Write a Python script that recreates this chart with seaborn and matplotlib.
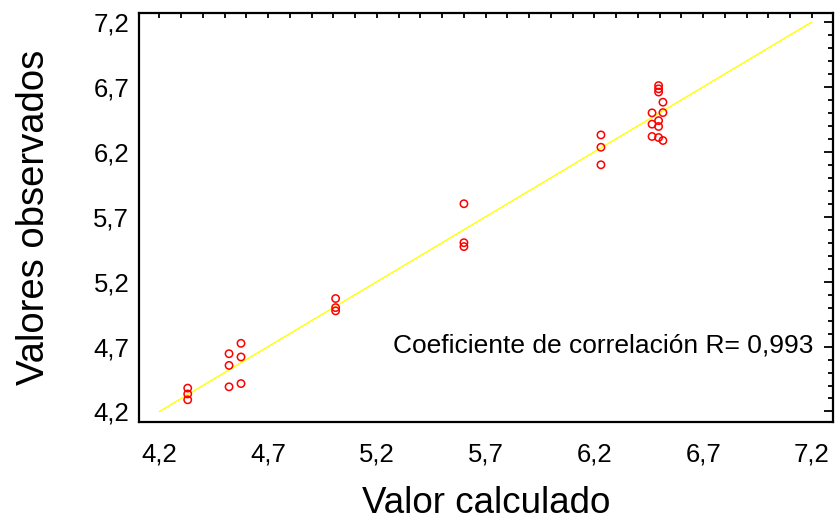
import numpy as np
import pandas as pd
import matplotlib
matplotlib.use("Agg")
import matplotlib.pyplot as plt
import seaborn as sns
from matplotlib.ticker import MultipleLocator, FuncFormatter

# Data
calc = [4.33, 4.33, 4.33,
        4.52, 4.52, 4.52,
        4.575, 4.575, 4.575,
        5.01, 5.01, 5.01,
        5.60, 5.60, 5.60,
        6.23, 6.23, 6.23,
        6.465, 6.465, 6.465,
        6.495, 6.495, 6.495, 6.495, 6.495, 6.495,
        6.515, 6.515, 6.515]
obs = [4.38, 4.335, 4.29,
       4.645, 4.555, 4.39,
       4.725, 4.62, 4.415,
       5.07, 5.00, 4.975,
       5.80, 5.50, 5.47,
       6.33, 6.235, 6.10,
       6.50, 6.413, 6.318,
       6.71, 6.685, 6.66, 6.44, 6.395, 6.31,
       6.582, 6.502, 6.287]
line_x = [4.2, 7.2]
line_y = [4.2, 7.2]
major_ticks = [4.2, 4.7, 5.2, 5.7, 6.2, 6.7, 7.2]
annotation = "Coeficiente de correlación R= 0,993"

sns.set_style("white")
plt.rcParams['font.family'] = ['Liberation Sans', 'DejaVu Sans']
plt.rcParams['text.color'] = 'black'
plt.rcParams['axes.labelcolor'] = 'black'
plt.rcParams['xtick.color'] = 'black'
plt.rcParams['ytick.color'] = 'black'

fig = plt.figure(figsize=(8.36, 5.20), dpi=100)
ax = fig.add_axes([139/836, (520-422)/520, (833-139)/836, (422-13)/520])

df = pd.DataFrame({"calc": calc, "obs": obs})
sns.lineplot(x=line_x, y=line_y, ax=ax, color="#ffff00", linewidth=1.0, zorder=1)
sns.scatterplot(data=df, x="calc", y="obs", ax=ax, marker="o", s=28,
                facecolors="none", edgecolor="#ff0000", linewidth=1.1, zorder=3)

ax.set_xlim(4.106, 7.297)
ax.set_ylim(4.119, 7.269)
ax.set_xticks(major_ticks)
ax.set_yticks(major_ticks)
ax.xaxis.set_minor_locator(MultipleLocator(0.1))
ax.yaxis.set_minor_locator(MultipleLocator(0.1))
fmt = FuncFormatter(lambda v, p: f"{v:.1f}".replace(".", ","))
ax.xaxis.set_major_formatter(fmt)
ax.yaxis.set_major_formatter(fmt)

for s in ax.spines.values():
    s.set_color("black")
    s.set_linewidth(1.6)

ax.tick_params(axis="both", which="both", direction="in", top=True, right=True,
               color="black", labelcolor="black", labelsize=18.5, width=1.3)
ax.tick_params(axis="x", which="major", length=3.5, pad=15)
ax.tick_params(axis="x", which="minor", length=3.5)
ax.tick_params(axis="y", which="major", length=6.5, pad=7)
ax.tick_params(axis="y", which="minor", length=3.5)

ax.set_xlabel("Valor calculado", fontsize=26.5, labelpad=14, color="black")
ax.set_ylabel("Valores observados", fontsize=27.5, labelpad=30, color="black")

ax.text(0.972, 0.169, annotation, transform=ax.transAxes, ha="right",
        va="baseline", fontsize=19, color="black")

fig.savefig("out.png", dpi=100)
